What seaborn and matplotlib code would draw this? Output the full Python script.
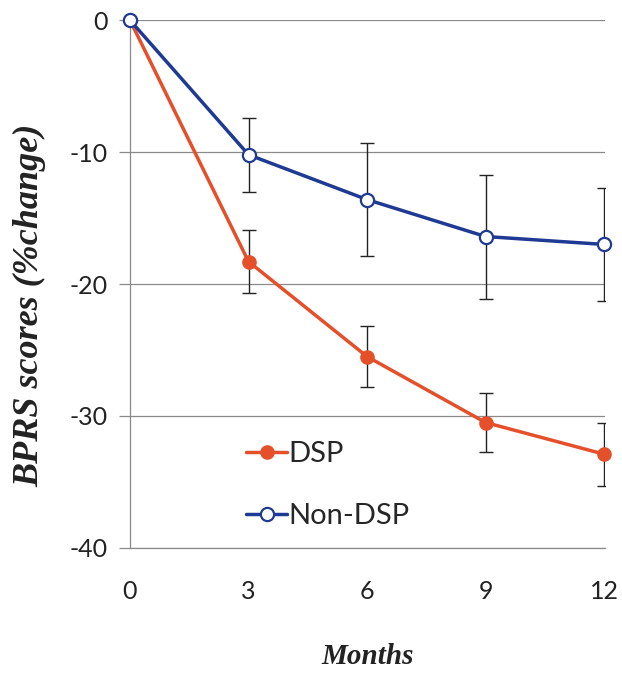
import matplotlib
matplotlib.use("Agg")
import matplotlib.pyplot as plt
import seaborn as sns
import pandas as pd
import numpy as np
from matplotlib.lines import Line2D

months = [0, 3, 6, 9, 12]
dsp_mean = [0, -18.3, -25.5, -30.5, -32.9]
dsp_err = [0, 2.4, 2.3, 2.2, 2.4]
non_mean = [0, -10.2, -13.6, -16.4, -17.0]
non_err = [0, 2.8, 4.3, 4.7, 4.3]
groups = ["DSP", "Non-DSP"]
y_ticks = [0, -10, -20, -30, -40]

sns.set_theme(style="white")
plt.rcParams['font.family'] = ['Lato', 'DejaVu Sans']

df = pd.DataFrame({
    "Months": months * 2,
    "Score": dsp_mean + non_mean,
    "Err": dsp_err + non_err,
    "Group": [groups[0]] * len(months) + [groups[1]] * len(months),
})

fig = plt.figure(figsize=(6.22, 6.73), dpi=100)
ax = fig.add_axes([0.209, 0.186, 0.764, 0.784])

colors = {"DSP": "#E5502B", "Non-DSP": "#1F3A93"}

sns.lineplot(data=df, x="Months", y="Score", hue="Group", palette=colors,
             linewidth=2.5, ax=ax, legend=False, zorder=3)
for l in ax.lines:
    l.set_clip_on(False)

# error bars (clipped at the plot's right edge, like the original)
for g in groups:
    sub = df[df.Group == g]
    m = sub.Err > 0
    ax.errorbar(sub.Months[m], sub.Score[m], yerr=sub.Err[m], fmt="none",
                ecolor="#222222", elinewidth=1.0, capsize=5, capthick=1.0, zorder=2)

# markers
for g in groups:
    sub = df[df.Group == g]
    if g == "DSP":
        ax.plot(sub.Months, sub.Score, linestyle="none", marker="o", markersize=9.5,
                markerfacecolor=colors[g], markeredgecolor=colors[g], zorder=4, clip_on=False)
    else:
        ax.plot(sub.Months, sub.Score, linestyle="none", marker="o", markersize=9.5,
                markerfacecolor="white", markeredgecolor=colors[g], markeredgewidth=1.6,
                zorder=4, clip_on=False)

ax.set_xlim(0, 12.03)
ax.set_ylim(-40, 0)
ax.set_xticks(months)
ax.set_yticks(y_ticks)
ax.set_xticklabels([str(m) for m in months])
ax.set_yticklabels([str(t) for t in y_ticks])

ax.yaxis.grid(True, color="#8a8a8a", linewidth=0.9)
ax.xaxis.grid(False)
ax.set_axisbelow(True)
for s in ["top", "right"]:
    ax.spines[s].set_visible(False)
for s in ["left", "bottom"]:
    ax.spines[s].set_color("#8a8a8a")
    ax.spines[s].set_linewidth(0.9)

ax.tick_params(axis="y", which="both", left=True, length=8, width=0.9, color="#8a8a8a",
               labelsize=18, pad=8, labelcolor="#222222")
ax.tick_params(axis="x", bottom=False, labelsize=18, pad=17, labelcolor="#222222")

ax.set_xlabel("Months", fontsize=21, fontstyle="italic", fontweight="bold",
              family=["Liberation Serif"], labelpad=29, color="#222222")
ax.set_ylabel("BPRS scores (%change)", fontsize=26, fontstyle="italic", fontweight="bold",
              family=["Liberation Serif"], color="#222222")
ax.yaxis.set_label_coords(-0.175, 0.46)

handles = [
    Line2D([], [], color=colors["DSP"], linewidth=2.5, marker="o", markersize=9.5,
           markerfacecolor=colors["DSP"], markeredgecolor=colors["DSP"]),
    Line2D([], [], color=colors["Non-DSP"], linewidth=2.5, marker="o", markersize=9.5,
           markerfacecolor="white", markeredgecolor=colors["Non-DSP"], markeredgewidth=1.6),
]
ax.legend(handles, groups, loc="upper left", bbox_to_anchor=(0.22, 0.225),
          frameon=False, fontsize=21, handlelength=1.4, handletextpad=0.05,
          labelspacing=1.25, borderaxespad=0)

fig.savefig("out.png", dpi=100)
